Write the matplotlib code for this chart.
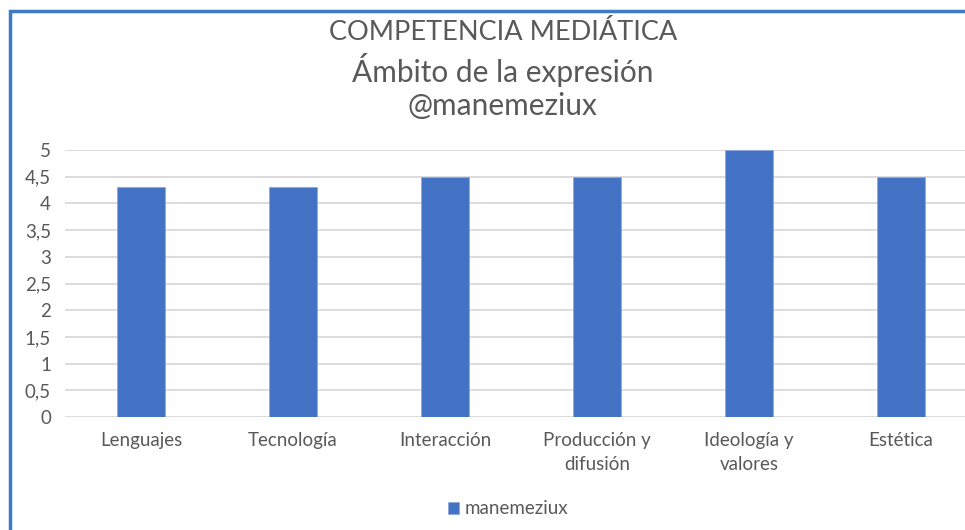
import numpy as np
import matplotlib.pyplot as plt
from matplotlib.patches import Rectangle

# datos
categorias = ["Lenguajes", "Tecnología", "Interacción", "Producción y\ndifusión",
              "Ideología y\nvalores", "Estética"]
valores = [4.3, 4.3, 4.5, 4.5, 5.0, 4.5]
yticks = [0, 0.5, 1, 1.5, 2, 2.5, 3, 3.5, 4, 4.5, 5]
ytick_labels = ["0", "0,5", "1", "1,5", "2", "2,5", "3", "3,5", "4", "4,5", "5"]
serie = "manemeziux"

plt.rcParams['font.family'] = ['Lato', 'DejaVu Sans']
gris = '#595959'

fig = plt.figure(figsize=(9.65, 5.3), dpi=100)
ax = fig.add_axes([65/965, 113/530, 912/965, 267/530])

x = np.arange(len(categorias))
ax.bar(x, valores, width=0.31, color='#4472c4', edgecolor='#8eaadb', linewidth=0.6,
       zorder=3, label=serie)

ax.set_xlim(-0.5, len(categorias) - 0.5)
ax.set_ylim(0, 5)
ax.set_yticks(yticks)
ax.set_yticklabels(ytick_labels)
ax.set_xticks(x)
ax.set_xticklabels(categorias, linespacing=1.45)
ax.tick_params(axis='both', length=0, colors=gris, labelsize=13.5)
ax.tick_params(axis='y', pad=10)
ax.tick_params(axis='x', pad=11)
ax.grid(axis='y', color='#d9d9d9', linewidth=1.3, zorder=0)
for s in ax.spines.values():
    s.set_visible(False)

# titulo
fig.text(0.521, 1 - 33/530, "COMPETENCIA MEDIÁTICA", ha='center', va='center', fontsize=19.5, color=gris)
fig.text(0.521, 1 - 70/530, "Ámbito de la expresión", ha='center', va='center', fontsize=21.5, color=gris)
fig.text(0.521, 1 - 106/530, "@manemeziux", ha='center', va='center', fontsize=21.5, color=gris)

# leyenda
leg = fig.legend(loc='center', bbox_to_anchor=(508/965, 1 - 509/530), frameon=False,
                 fontsize=13.5, handlelength=0.6, handleheight=0.6, handletextpad=0.3)
for t in leg.get_texts():
    t.set_color(gris)

# borde azul
fig.patches.append(Rectangle((10/965, -0.01), 1.0, 1 - 11/530 + 0.01, transform=fig.transFigure,
                             fill=False, edgecolor='#3d7cc4', linewidth=2.5))

fig.savefig("out.png", dpi=100)
